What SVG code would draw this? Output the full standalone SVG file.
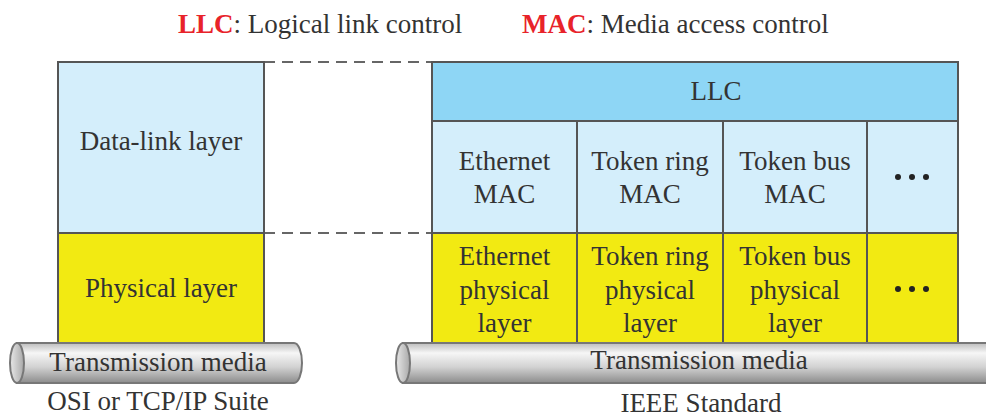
<svg xmlns="http://www.w3.org/2000/svg" width="986" height="418" viewBox="0 0 986 418">
<defs>
<linearGradient id="pipe" x1="0" y1="0" x2="0" y2="1">
<stop offset="0" stop-color="#bdbdbd"/>
<stop offset="0.25" stop-color="#f6f6f6"/>
<stop offset="0.6" stop-color="#d2d2d2"/>
<stop offset="1" stop-color="#8c8c8c"/>
</linearGradient>
<linearGradient id="cap" x1="0" y1="0" x2="1" y2="0">
<stop offset="0" stop-color="#e8e8e8"/>
<stop offset="1" stop-color="#a8a8a8"/>
</linearGradient>
</defs>
<style>
text{font-size:27px;fill:#333;text-anchor:middle}
.red{fill:#e8232a;font-weight:bold}
.hd{text-anchor:start}
.box{stroke:#555;stroke-width:2}
.blue{fill:#d4eefb}
.llc{fill:#8ed6f5}
.yel{fill:#f2ea12}
.pipe{fill:url(#pipe);stroke:#777;stroke-width:2}
.cap{fill:url(#cap);stroke:#777;stroke-width:2}
.dash{stroke:#666;stroke-width:2;stroke-dasharray:11 7;fill:none}
.dot{fill:#222}
</style>
<rect width="986" height="418" fill="#fff"/>
<g font-family="'Liberation Serif', 'DejaVu Serif', serif">
<g id="legend">
<text class="hd" x="178" y="33"><tspan class="red">LLC</tspan>: Logical link control</text>
<text class="hd" x="522" y="33"><tspan class="red">MAC</tspan>: Media access control</text>
</g>

<g id="connectors">
<line class="dash" x1="264" y1="62" x2="432" y2="62"/>
<line class="dash" x1="264" y1="233" x2="432" y2="233"/>
</g>

<g id="osi-datalink">
<rect class="box blue" x="58" y="62" width="206" height="171"/>
<text x="161" y="150">Data-link layer</text>
</g>
<g id="osi-physical">
<rect class="box yel" x="58" y="233" width="206" height="110"/>
<text x="161" y="297">Physical layer</text>
</g>
<g id="osi-media">
<path class="pipe" d="M17 343 H294 A8 20 0 0 1 294 383 H17 Z"/>
<ellipse class="cap" cx="17" cy="363" rx="7" ry="20"/>
<text x="158" y="371">Transmission media</text>
<text x="158" y="410">OSI or TCP/IP Suite</text>
</g>

<g id="ieee-llc">
<rect class="box llc" x="432" y="62" width="526" height="59"/>
<text x="716" y="100">LLC</text>
</g>
<g id="eth-mac">
<rect class="box blue" x="432" y="121" width="145" height="112"/>
<text x="504.5" y="170">Ethernet</text>
<text x="504.5" y="203">MAC</text>
</g>
<g id="tr-mac">
<rect class="box blue" x="577" y="121" width="146" height="112"/>
<text x="650" y="170">Token ring</text>
<text x="650" y="203">MAC</text>
</g>
<g id="tb-mac">
<rect class="box blue" x="723" y="121" width="144" height="112"/>
<text x="795" y="170">Token bus</text>
<text x="795" y="203">MAC</text>
</g>
<g id="more-mac">
<rect class="box blue" x="867" y="121" width="91" height="112"/>
<circle class="dot" cx="898" cy="177" r="3"/>
<circle class="dot" cx="912" cy="177" r="3"/>
<circle class="dot" cx="926" cy="177" r="3"/>
</g>
<g id="eth-phy">
<rect class="box yel" x="432" y="233" width="145" height="110"/>
<text x="504.5" y="265">Ethernet</text>
<text x="504.5" y="299">physical</text>
<text x="504.5" y="332">layer</text>
</g>
<g id="tr-phy">
<rect class="box yel" x="577" y="233" width="146" height="110"/>
<text x="650" y="265">Token ring</text>
<text x="650" y="299">physical</text>
<text x="650" y="332">layer</text>
</g>
<g id="tb-phy">
<rect class="box yel" x="723" y="233" width="144" height="110"/>
<text x="795" y="265">Token bus</text>
<text x="795" y="299">physical</text>
<text x="795" y="332">layer</text>
</g>
<g id="more-phy">
<rect class="box yel" x="867" y="233" width="91" height="110"/>
<circle class="dot" cx="898" cy="289" r="3"/>
<circle class="dot" cx="912" cy="289" r="3"/>
<circle class="dot" cx="926" cy="289" r="3"/>
</g>
<g id="ieee-media">
<path class="pipe" d="M403 343 H1000 V383 H403 Z"/>
<ellipse class="cap" cx="403" cy="363" rx="7" ry="20"/>
<text x="699" y="369">Transmission media</text>
<text x="701" y="412">IEEE Standard</text>
</g>
</g>
</svg>
